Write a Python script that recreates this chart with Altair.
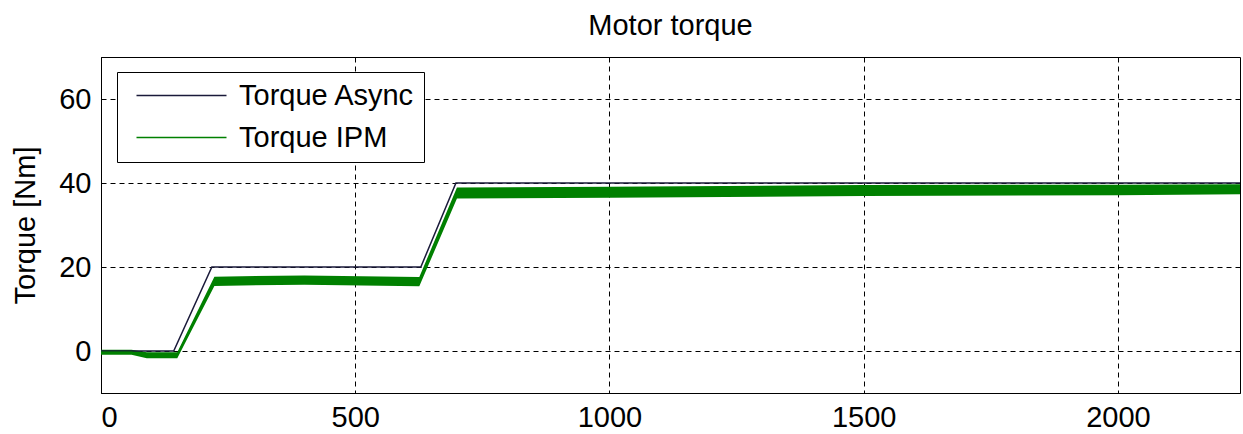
import altair as alt
import pandas as pd

# ---- data ----
async_t = [0, 143, 218, 629, 698, 2240]
async_v = [0, 0, 20, 20, 40, 40]

ipm_t = [0, 60, 90, 150, 223, 400, 626, 700, 1000, 1500, 2000, 2240]
ipm_v = [-0.3, -0.3, -1.0, -1.0, 16.6, 16.9, 16.5, 37.6, 37.8, 38.2, 38.4, 38.6]
ipm_lo = [-0.9, -0.9, -1.7, -1.7, 15.5, 15.8, 15.4, 36.3, 36.5, 36.9, 37.1, 37.3]
ipm_hi = [0.3, 0.3, -0.3, -0.3, 17.7, 18.0, 17.6, 38.9, 39.1, 39.5, 39.6, 39.7]

series_names = ["Torque Async", "Torque IPM"]
series_colors = ["#1a1a3a", "#008000"]

x_ticks = [0, 500, 1000, 1500, 2000]
y_ticks = [0, 20, 40, 60]

FONT = "Liberation Sans"
FS = 29

line_df = pd.DataFrame(
    {"series": [series_names[0]] * len(async_t), "t": async_t, "v": async_v}
)
line_df = pd.concat(
    [line_df, pd.DataFrame({"series": [series_names[1]] * len(ipm_t), "t": ipm_t, "v": ipm_v})],
    ignore_index=True,
)
band_df = pd.DataFrame({"t": ipm_t, "lo": ipm_lo, "hi": ipm_hi})

xscale = alt.Scale(domain=[0, 2240], nice=False, zero=False)
yscale = alt.Scale(domain=[-10, 70], nice=False, zero=False)

xaxis = alt.Axis(values=x_ticks, title=None, labelPadding=10, format="d")
yaxis = alt.Axis(values=y_ticks, title="Torque [Nm]", labelPadding=10, titlePadding=18, format="d")

band = alt.Chart(band_df).mark_area(color=series_colors[1], opacity=1).encode(
    x=alt.X("t:Q", scale=xscale, axis=xaxis),
    y=alt.Y("lo:Q", scale=yscale, axis=yaxis),
    y2="hi:Q",
)

lines = alt.Chart(line_df).mark_line(strokeWidth=1.5).encode(
    x=alt.X("t:Q", scale=xscale, axis=xaxis),
    y=alt.Y("v:Q", scale=yscale, axis=yaxis),
    color=alt.Color(
        "series:N",
        scale=alt.Scale(domain=series_names, range=series_colors),
        legend=alt.Legend(
            title=None,
            orient="none",
            legendX=16,
            legendY=15,
            strokeColor="black",
            fillColor="white",
            padding=9,
            labelFont=FONT,
            labelFontSize=FS,
            labelColor="black",
            labelLimit=0,
            labelOffset=84,
            rowPadding=12,
            symbolType="M-4,0H86",
            symbolSize=4,
            symbolStrokeWidth=1.5,
            cornerRadius=0,
        ),
    ),
)

chart = (
    alt.layer(band, lines)
    .properties(
        width=1139,
        height=336,
        title=alt.TitleParams(
            "Motor torque",
            font=FONT,
            fontSize=FS,
            fontWeight="normal",
            color="black",
            anchor="middle",
            baseline="alphabetic",
            offset=23,
            dy=30,
        ),
        autosize=alt.AutoSizeParams(type="none"),
        padding={"left": 101, "top": 57, "right": 3, "bottom": 41},
        background="white",
    )
    .configure_view(stroke="black", strokeWidth=1)
    .configure_axis(
        grid=True,
        gridColor="black",
        gridDash=[5, 4],
        gridOpacity=1,
        gridWidth=1,
        domain=True,
        domainColor="black",
        ticks=False,
        labelFont=FONT,
        labelFontSize=FS,
        labelColor="black",
        titleFont=FONT,
        titleFontSize=FS,
        titleFontWeight="normal",
        titleColor="black",
    )
)

chart.save("out.html", embed_options={"renderer": "svg", "actions": False})
